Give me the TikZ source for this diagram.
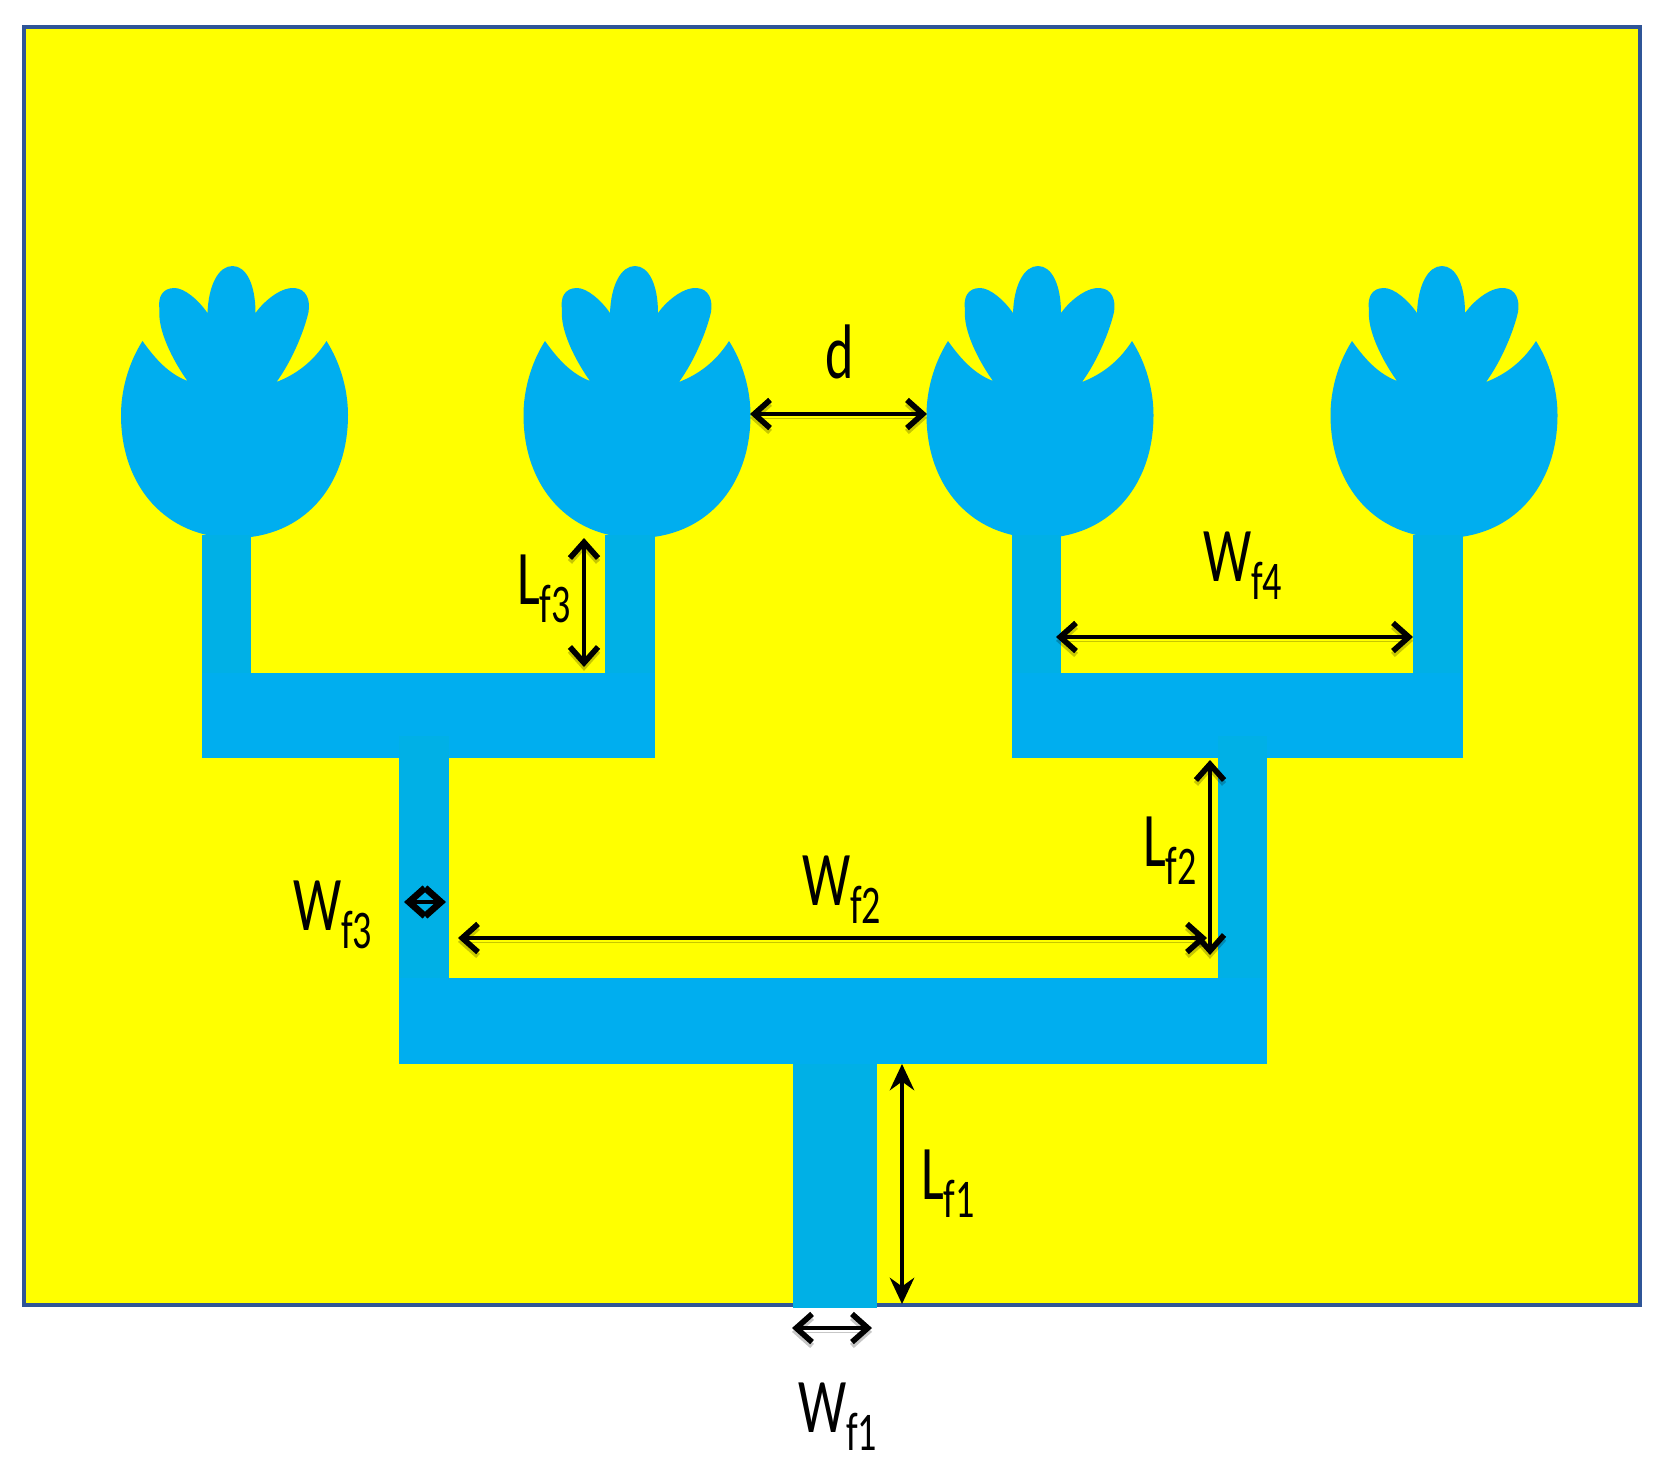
\documentclass[tikz,border=0pt]{standalone}
\usepackage{fontspec}
\setmainfont{Carlito}
\usetikzlibrary{arrows.meta}
\definecolor{board}{HTML}{FFFF00}
\definecolor{edgeblue}{HTML}{2F5597}
\definecolor{patch}{HTML}{00AEEF}
\definecolor{stemblue}{HTML}{00B0E6}
\newcommand{\lbl}[2]{\scalebox{.7}[1]{\fontsize{44}{44}\selectfont #1\raisebox{-.24em}{\fontsize{31}{31}\selectfont #2}}}
\tikzset{
  softshadow/.style={preaction={draw=black,opacity=.22,transform canvas={yshift=-2.2pt}}},
  dim/.style={draw=black,line width=2.6pt,softshadow,{Straight Barb[length=9pt,width=16pt,line width=3.2pt]}-{Straight Barb[length=9pt,width=16pt,line width=3.2pt]}},
  tightdim/.style={draw=black,line width=2.2pt,{Straight Barb[length=9pt,width=16pt,line width=3.8pt]}-{Straight Barb[length=9pt,width=16pt,line width=3.8pt]}},
  thindim/.style={draw=black,line width=1.8pt,{Stealth[length=15pt,width=14pt,inset=5pt]}-{Stealth[length=15pt,width=14pt,inset=5pt]}},
  lab/.style={anchor=base west,inner sep=0pt,outer sep=0pt,text=black},
  barfill/.style={fill=patch,draw=none},
  stemfill/.style={fill=stemblue,draw=none}
}
\newcommand{\tulip}[1]{%
  \fill[patch,shift={(#1,415)}]
    (-92,-74) .. controls (-75,-50) and (-62,-40) .. (-47,-34)
    .. controls (-62,-55) and (-77,-85) .. (-75,-105)
    .. controls (-77,-118) and (-72,-127) .. (-60,-127)
    .. controls (-50,-127) and (-36,-115) .. (-27,-102)
    .. controls (-26,-130) and (-16,-149) .. (-2,-149)
    .. controls (12,-149) and (21,-130) .. (21,-102)
    .. controls (28,-112) and (45,-128) .. (60,-127)
    .. controls (72,-126) and (76,-115) .. (74,-103)
    .. controls (70,-85) and (58,-55) .. (42,-33)
    .. controls (60,-40) and (78,-52) .. (92,-74)
    .. controls (106,-52) and (113.5,-25) .. (113.5,0)
    .. controls (113.5,72) and (68,123) .. (0,123)
    .. controls (-68,123) and (-113.5,72) .. (-113.5,0)
    .. controls (-113.5,-25) and (-106,-52) .. (-92,-74) -- cycle;
}
\begin{document}
\begin{tikzpicture}[x=0.02cm,y=-0.02cm]
\useasboundingbox (0,0) rectangle (1656,1467);
\fill[white] (0,0) rectangle (1656,1467);
\filldraw[fill=board,draw=edgeblue,line width=1.8pt] (24,27) rectangle (1640,1305);
% upper branch bars
\fill[barfill] (202,673) rectangle (655,758);
\fill[barfill] (1012,673) rectangle (1463,758);
\fill[barfill] (399,978) rectangle (1267,1064);
% patches
\tulip{234.5}\tulip{637}\tulip{1040}\tulip{1444}
% stems
\fill[stemfill] (202,535) rectangle (251,673);
\fill[stemfill] (605,535) rectangle (655,673);
\fill[stemfill] (1012,535) rectangle (1061,673);
\fill[stemfill] (1413,535) rectangle (1463,673);
\fill[stemfill] (399,736) rectangle (449,978);
\fill[stemfill] (1218,736) rectangle (1267,978);
\fill[stemfill] (793,1064) rectangle (877,1308);
% dimension end points
\coordinate (dA) at (750,414); \coordinate (dB) at (927,414);
\coordinate (lfthreeA) at (584,538); \coordinate (lfthreeB) at (584,667);
\coordinate (wffourA) at (1056,637); \coordinate (wffourB) at (1413,637);
\coordinate (lftwoA) at (1210,760); \coordinate (lftwoB) at (1210,955);
\coordinate (wftwoA) at (458,938); \coordinate (wftwoB) at (1207,938);
\coordinate (wfthreeA) at (404,902); \coordinate (wfthreeB) at (446,902);
\coordinate (lfoneA) at (902,1064); \coordinate (lfoneB) at (902,1304);
\coordinate (wfoneA) at (792,1328); \coordinate (wfoneB) at (872,1328);
\draw[dim] (dA) -- (dB);
\draw[dim] (lfthreeA) -- (lfthreeB);
\draw[dim] (wffourA) -- (wffourB);
\draw[dim] (lftwoA) -- (lftwoB);
\draw[dim] (wftwoA) -- (wftwoB);
\draw[tightdim] (wfthreeA) -- (wfthreeB);
\draw[thindim] (lfoneA) -- (lfoneB);
\draw[dim] (wfoneA) -- (wfoneB);
% labels
\node[lab] (ld) at (825,378) {\scalebox{.7}[1]{\fontsize{44}{44}\selectfont d}};
\node[lab] (lf3) at (517,604) {\lbl{L}{f3}};
\node[lab] (wf4) at (1203,581) {\lbl{W}{f4}};
\node[lab] (lf2) at (1143,866) {\lbl{L}{f2}};
\node[lab] (wf2) at (802,905) {\lbl{W}{f2}};
\node[lab] (wf3) at (293,930) {\lbl{W}{f3}};
\node[lab] (lf1) at (921,1199) {\lbl{L}{f1}};
\node[lab] (wf1) at (798,1432) {\lbl{W}{f1}};
\end{tikzpicture}
\end{document}
